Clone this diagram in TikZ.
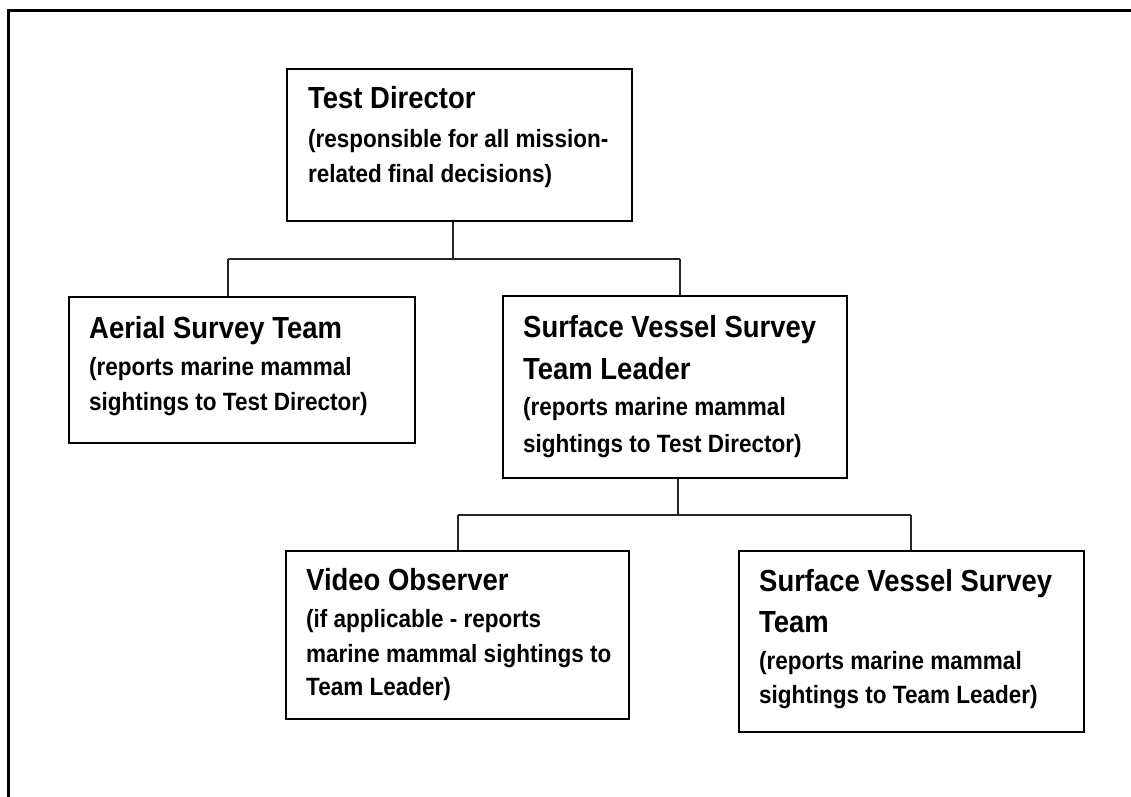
\documentclass[tikz,border=0pt]{standalone}
\usepackage{fontspec}
\setmainfont{Liberation Sans}[FakeStretch=0.9]
\begin{document}
\begin{tikzpicture}[x=1bp,y=-1bp,
  box/.style={draw=black,line width=1.8bp,rectangle,inner sep=0pt,fill=none},
  conn/.style={draw=black!85,line width=1.4bp},
  frame/.style={draw=black,line width=3bp},
  ttl/.style={anchor=base west,inner sep=0pt,font=\fontsize{30.5bp}{34bp}\selectfont\bfseries},
  sub/.style={anchor=base west,inner sep=0pt,font=\fontsize{25bp}{30bp}\selectfont\bfseries}]
\useasboundingbox (0,0) rectangle (1131,797);
\fill[white] (0,0) rectangle (1131,797);
% frame (top and left edges visible)
\coordinate (fTL) at (8,11);
\coordinate (fTR) at (1131,11);
\coordinate (fBL) at (8,797);
\draw[frame] (fTR) -- (fTL) -- (fBL);
% boxes
\node[box,minimum width=345bp,minimum height=152bp] (td) at (459.5,145) {};
\node[box,minimum width=346bp,minimum height=146bp] (ast) at (242,370) {};
\node[box,minimum width=344bp,minimum height=182bp] (svl) at (675,387) {};
\node[box,minimum width=343bp,minimum height=168bp] (vo) at (457.5,635) {};
\node[box,minimum width=345bp,minimum height=181bp] (svt) at (911.5,641.5) {};
% texts
\node[ttl] (td1) at (308,109) {Test Director};
\node[sub] (td2) at (308,147) {(responsible for all mission-};
\node[sub] (td3) at (308,182) {related final decisions)};
\node[ttl] (ast1) at (89,338) {Aerial Survey Team};
\node[sub] (ast2) at (89,375) {(reports marine mammal};
\node[sub] (ast3) at (89,410) {sightings to Test Director)};
\node[ttl] (svl1) at (523,337) {Surface Vessel Survey};
\node[ttl] (svl2) at (523,379) {Team Leader};
\node[sub] (svl3) at (523,415) {(reports marine mammal};
\node[sub] (svl4) at (523,452) {sightings to Test Director)};
\node[ttl] (vo1) at (306,590) {Video Observer};
\node[sub] (vo2) at (306,627) {(if applicable - reports};
\node[sub] (vo3) at (306,662) {marine mammal sightings to};
\node[sub] (vo4) at (306,695) {Team Leader)};
\node[ttl] (svt1) at (759,591) {Surface Vessel Survey};
\node[ttl] (svt2) at (759,632) {Team};
\node[sub] (svt3) at (759,669) {(reports marine mammal};
\node[sub] (svt4) at (759,703) {sightings to Team Leader)};
% connectors
\coordinate (j1) at (453,259);
\coordinate (j1l) at (228,259);
\coordinate (j1r) at (680,259);
\draw[conn] (td.south -| j1) -- (j1);
\draw[conn] (j1l) -- (j1r);
\draw[conn] (j1l) -- (j1l |- ast.north);
\draw[conn] (j1r) -- (j1r |- svl.north);
\coordinate (j2) at (678,515);
\coordinate (j2l) at (458,515);
\coordinate (j2r) at (911,515);
\draw[conn] (svl.south -| j2) -- (j2);
\draw[conn] (j2l) -- (j2r);
\draw[conn] (j2l) -- (j2l |- vo.north);
\draw[conn] (j2r) -- (j2r |- svt.north);
\end{tikzpicture}
\end{document}
